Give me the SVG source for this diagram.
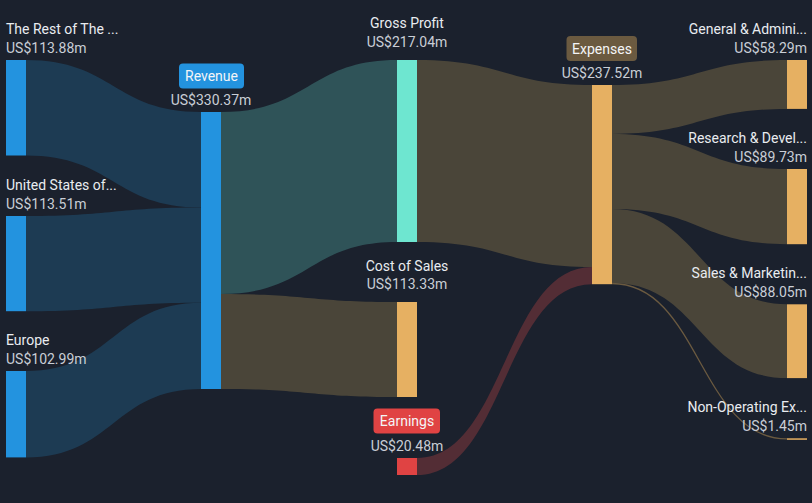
<svg xmlns="http://www.w3.org/2000/svg" width="812" height="503" viewBox="0 0 812 503">
<style>
.lbl{font-family:Roboto,"Liberation Sans",sans-serif;font-size:14px;fill:#e9ecf0}
.val{font-family:Roboto,"Liberation Sans",sans-serif;font-size:14px;fill:#c9ced6}
.bt{font-family:Roboto,"Liberation Sans",sans-serif;font-size:14px;fill:#f4f5f7}
.blue{fill:#2393df}
.lb{fill:#1d3b53}
.lt{fill:#2f5358}
.lw{fill:#4a4539}
.lr{fill:#532d35}
.or{fill:#e6b062}
</style>
<rect width="812" height="503" fill="#1b212d"/>
<g id="connectors">
<path class="lb" d="M26 60 C113.5 60 113.5 112 201 112 L201 207.5 C113.5 207.5 113.5 155.5 26 155.5 Z"/>
<path class="lb" d="M26 216 C113.5 216 113.5 207.5 201 207.5 L201 302.7 C113.5 302.7 113.5 311.2 26 311.2 Z"/>
<path class="lb" d="M26 371 C113.5 371 113.5 302.7 201 302.7 L201 389 C113.5 389 113.5 457.4 26 457.4 Z"/>
<path class="lt" d="M221 112 C309 112 309 60 397 60 L397 242 C309 242 309 294 221 294 Z"/>
<path class="lw" d="M221 294 C309 294 309 302 397 302 L397 397 C309 397 309 389 221 389 Z"/>
<path class="lw" d="M417 60 C504.5 60 504.5 85 592 85 L592 267 C504.5 267 504.5 242 417 242 Z"/>
<path class="lr" d="M417 458 C504.5 458 504.5 267 592 267 L592 284.2 C504.5 284.2 504.5 475 417 475 Z"/>
<path class="lw" d="M612 85 C699.5 85 699.5 60 787 60 L787 108.9 C699.5 108.9 699.5 133.9 612 133.9 Z"/>
<path class="lw" d="M612 133.9 C699.5 133.9 699.5 169 787 169 L787 244.2 C699.5 244.2 699.5 209.1 612 209.1 Z"/>
<path class="lw" d="M612 209.1 C699.5 209.1 699.5 304.3 787 304.3 L787 378.1 C699.5 378.1 699.5 282.9 612 282.9 Z"/>
<path d="M612 283.5 C699.5 283.5 699.5 438.9 787 438.9" fill="none" stroke="#6b5a40" stroke-width="1.3"/>
</g>
<g id="rest">
<rect class="blue" x="6" y="60" width="20" height="95.5"/>
<text class="lbl" x="6" y="34">The Rest of The ...</text>
<text class="val" x="6" y="53">US$113.88m</text>
</g>
<g id="us">
<rect class="blue" x="6" y="216" width="20" height="95.2"/>
<text class="lbl" x="6" y="190">United States of...</text>
<text class="val" x="6" y="209">US$113.51m</text>
</g>
<g id="europe">
<rect class="blue" x="6" y="371" width="20" height="86.4"/>
<text class="lbl" x="6" y="345">Europe</text>
<text class="val" x="6" y="364">US$102.99m</text>
</g>
<g id="revenue">
<rect class="blue" x="201" y="112" width="20" height="277"/>
<rect class="blue" x="179" y="63.5" width="65" height="25" rx="4"/>
<text class="bt" x="211.5" y="81" text-anchor="middle">Revenue</text>
<text class="val" x="211" y="105" text-anchor="middle">US$330.37m</text>
</g>
<g id="gross-profit">
<rect x="397" y="60" width="20" height="182" fill="#6ee6d0"/>
<text class="lbl" x="407" y="28" text-anchor="middle">Gross Profit</text>
<text class="val" x="407" y="47" text-anchor="middle">US$217.04m</text>
</g>
<g id="cost-of-sales">
<rect class="or" x="397" y="302" width="20" height="95"/>
<text class="lbl" x="407" y="271" text-anchor="middle">Cost of Sales</text>
<text class="val" x="407" y="289" text-anchor="middle">US$113.33m</text>
</g>
<g id="earnings">
<rect x="397" y="458" width="20" height="17" fill="#e04343"/>
<rect x="373.5" y="408.5" width="66.5" height="25" rx="4" fill="#e04343"/>
<text class="bt" x="407" y="426" text-anchor="middle">Earnings</text>
<text class="val" x="407" y="451" text-anchor="middle">US$20.48m</text>
</g>
<g id="expenses">
<rect class="or" x="592" y="85" width="20" height="199.2"/>
<rect x="566.5" y="36" width="70.5" height="25" rx="4" fill="#6b5a40"/>
<text class="bt" x="602" y="54" text-anchor="middle">Expenses</text>
<text class="val" x="602" y="78" text-anchor="middle">US$237.52m</text>
</g>
<g id="general-admin">
<rect class="or" x="787" y="60" width="20" height="48.9"/>
<text class="lbl" x="807" y="34" text-anchor="end">General &amp; Admini...</text>
<text class="val" x="807" y="53" text-anchor="end">US$58.29m</text>
</g>
<g id="research-dev">
<rect class="or" x="787" y="169" width="20" height="75.2"/>
<text class="lbl" x="807" y="143" text-anchor="end">Research &amp; Devel...</text>
<text class="val" x="807" y="162" text-anchor="end">US$89.73m</text>
</g>
<g id="sales-marketing">
<rect class="or" x="787" y="304.3" width="20" height="73.8"/>
<text class="lbl" x="807" y="278" text-anchor="end">Sales &amp; Marketin...</text>
<text class="val" x="807" y="297" text-anchor="end">US$88.05m</text>
</g>
<g id="non-operating">
<rect class="or" x="787" y="438.3" width="20" height="1.5"/>
<text class="lbl" x="807" y="412" text-anchor="end">Non-Operating Ex...</text>
<text class="val" x="807" y="431" text-anchor="end">US$1.45m</text>
</g>
</svg>
